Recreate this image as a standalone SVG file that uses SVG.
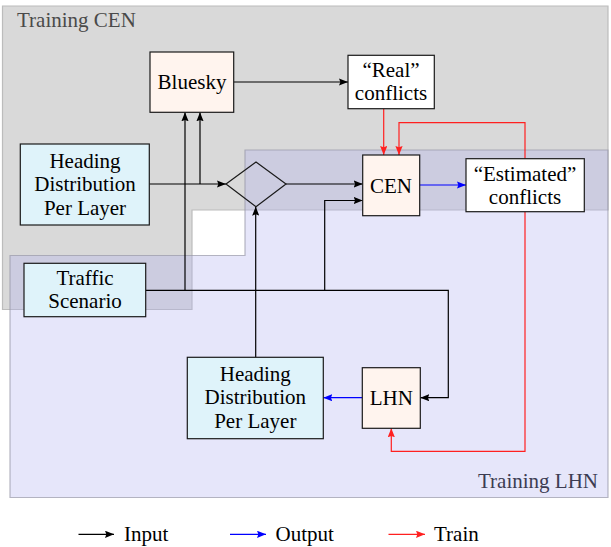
<svg xmlns="http://www.w3.org/2000/svg" width="611" height="547" viewBox="0 0 611 547">
<style>
  text { font-family: "Liberation Serif", "Times New Roman", serif; font-size: 21px; fill: #000; text-anchor: middle; }
  .region-label { text-anchor: start; }
  .box { stroke: #1a1a1a; stroke-width: 1.2; }
  .model { fill: #fff4ee; }
  .data { fill: #dff3fa; }
  .plain { fill: #ffffff; }
  .conn { fill: none; stroke-width: 1.2; }
  .in { stroke: #000; }
  .out { stroke: #0000ff; }
  .train { stroke: #ff2020; }
</style>
<defs>
  <marker id="ak" viewBox="0 0 10 8" refX="10" refY="4" markerWidth="9" markerHeight="7.2" markerUnits="userSpaceOnUse" orient="auto">
    <path d="M0,0 L10,4 L0,8 L1.5,4 z" fill="#000"/>
  </marker>
  <marker id="ab" viewBox="0 0 10 8" refX="10" refY="4" markerWidth="9" markerHeight="7.2" markerUnits="userSpaceOnUse" orient="auto">
    <path d="M0,0 L10,4 L0,8 L1.5,4 z" fill="#0000ff"/>
  </marker>
  <marker id="ar" viewBox="0 0 10 8" refX="10" refY="4" markerWidth="9" markerHeight="7.2" markerUnits="userSpaceOnUse" orient="auto">
    <path d="M0,0 L10,4 L0,8 L1.5,4 z" fill="#ff2020"/>
  </marker>
</defs>

<g id="regions">
  <polygon id="training-cen" points="2.5,6 608,6 608,210 192,210 192,309.5 2.5,309.5" fill="#d9d9d9" stroke="#bcbcbc" stroke-width="1.2"/>
  <polygon id="training-lhn" points="245,150 608,150 608,497.5 10,497.5 10,255.5 245,255.5" fill="rgb(176,176,239)" fill-opacity="0.32" stroke="#9898a8" stroke-opacity="0.7" stroke-width="1.2"/>
  <text class="region-label" x="17" y="26.5" fill="#4a4a4a" style="fill:#4a4a4a">Training CEN</text>
  <text class="region-label" x="478" y="487.5" style="fill:#3c3c52">Training LHN</text>
</g>

<g id="connectors">
  <path class="conn in" d="M233.7,82 H348" marker-end="url(#ak)"/>
  <path class="conn in" d="M149.3,184 H226" marker-end="url(#ak)"/>
  <path class="conn in" d="M200,184 V112.3" marker-end="url(#ak)"/>
  <path class="conn in" d="M145.7,290.3 H448.3 V397.7 H420.3" marker-end="url(#ak)"/>
  <path class="conn in" d="M185,290.3 V112.3" marker-end="url(#ak)"/>
  <path class="conn in" d="M324.7,290.3 V200.5 H362.7" marker-end="url(#ak)"/>
  <path class="conn in" d="M286,184 H362.7" marker-end="url(#ak)"/>
  <path class="conn in" d="M255.7,357.3 V206.7" marker-end="url(#ak)"/>
  <path class="conn out" d="M362.3,397.7 H323.3" marker-end="url(#ab)"/>
  <path class="conn out" d="M419.7,185 H466" marker-end="url(#ab)"/>
  <path class="conn train" d="M383.7,108.7 V155" marker-end="url(#ar)"/>
  <path class="conn train" d="M525,158.7 V122.7 H399 V155" marker-end="url(#ar)"/>
  <path class="conn train" d="M525,211.7 V451.3 H391.3 V428.3" marker-end="url(#ar)"/>
</g>

<g id="node-bluesky">
  <rect class="box model" x="150" y="52" width="83.7" height="60.3"/>
  <text x="192" y="89">Bluesky</text>
</g>
<g id="node-heading-top">
  <rect class="box data" x="20.3" y="144" width="129" height="81"/>
  <text x="85" y="167.5">Heading</text>
  <text x="85" y="191">Distribution</text>
  <text x="85" y="214.5">Per Layer</text>
</g>
<g id="node-merge">
  <polygon points="226,184 256,162 286,184 256,206.7" fill="none" stroke="#1a1a1a" stroke-width="1.2"/>
</g>
<g id="node-real">
  <rect class="box plain" x="348" y="55.3" width="86.3" height="53.4"/>
  <text x="391" y="76.5">“Real”</text>
  <text x="391" y="100">conflicts</text>
</g>
<g id="node-cen">
  <rect class="box model" x="362.7" y="155" width="57" height="60.7"/>
  <text x="391" y="192.5">CEN</text>
</g>
<g id="node-estimated">
  <rect class="box plain" x="466" y="158.7" width="118.3" height="53"/>
  <text x="525" y="181">“Estimated”</text>
  <text x="525" y="204">conflicts</text>
</g>
<g id="node-traffic">
  <rect class="box data" x="24" y="263.3" width="121.7" height="53.4"/>
  <text x="85" y="284.5">Traffic</text>
  <text x="85" y="308">Scenario</text>
</g>
<g id="node-heading-bottom">
  <rect class="box data" x="187.3" y="357.3" width="136" height="81.4"/>
  <text x="255.3" y="380.5">Heading</text>
  <text x="255.3" y="404">Distribution</text>
  <text x="255.3" y="427.5">Per Layer</text>
</g>
<g id="node-lhn">
  <rect class="box model" x="362.3" y="367.7" width="58" height="60.6"/>
  <text x="391.3" y="405">LHN</text>
</g>

<g id="legend">
  <path class="conn in" d="M78.5,534.3 H114" marker-end="url(#ak)"/>
  <text class="region-label" x="124" y="541">Input</text>
  <path class="conn out" d="M230,534.3 H266" marker-end="url(#ab)"/>
  <text class="region-label" x="275.5" y="541">Output</text>
  <path class="conn train" d="M388.5,534.3 H425" marker-end="url(#ar)"/>
  <text class="region-label" x="434" y="541">Train</text>
</g>
</svg>
